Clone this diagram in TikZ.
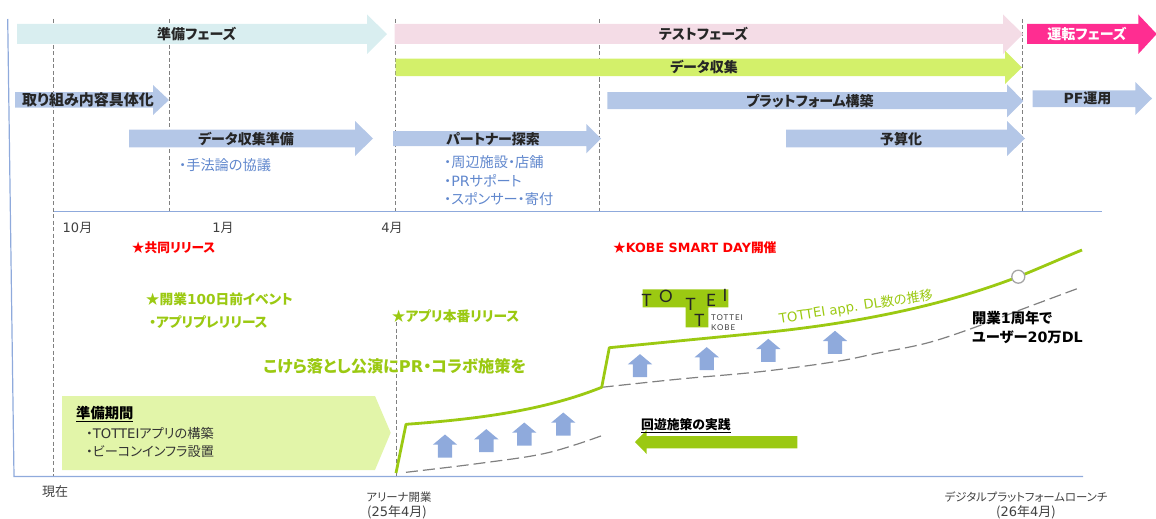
\documentclass[tikz,border=0pt]{standalone}
\usepackage{fontspec}
\usetikzlibrary{shapes.arrows}
\setmainfont{Noto Sans CJK JP}[RawFeature={+palt}]
\newfontfamily\ltnfont{DejaVu Sans}
\newfontfamily\logofont{Lato}
\newfontfamily\logosmall{Lato}[LetterSpace=12]
\newcommand{\ltn}[1]{{\ltnfont #1}}
\definecolor{axisblue}{HTML}{8FAADC}
\definecolor{barblue}{HTML}{B4C7E7}
\definecolor{notegreen}{HTML}{9BC912}
\definecolor{bargreen}{HTML}{D3F06A}
\definecolor{boxgreen}{HTML}{E2F5A9}
\definecolor{barpink}{HTML}{F4DCE6}
\definecolor{barteal}{HTML}{D9EEF0}
\definecolor{barmagenta}{HTML}{FF2D91}
\definecolor{textblue}{HTML}{4472C4}
\definecolor{textgray}{HTML}{404040}
\tikzset{
  barlabel/.style={inner sep=0pt,font=\fontsize{14}{14}\selectfont\bfseries,text=black!85},
  notelabel/.style={inner sep=0pt,anchor=west,font=\fontsize{14.2}{14.2}\selectfont,text=textblue!85},
  axislabel/.style={inner sep=0pt,font=\fontsize{13}{13}\selectfont,text=textgray},
  bottomlabel/.style={inner sep=0pt,font=\fontsize{11.4}{11.4}\selectfont,text=textgray},
  redlabel/.style={inner sep=0pt,anchor=west,font=\fontsize{12.7}{12.7}\selectfont\bfseries,text=red},
  greenlabel/.style={inner sep=0pt,anchor=west,font=\fontsize{13.7}{13.7}\selectfont\bfseries,text=notegreen},
  blacklabel/.style={inner sep=0pt,anchor=west,font=\fontsize{14.3}{14.3}\selectfont\bfseries,text=black},
  boxlabel/.style={inner sep=0pt,anchor=west,font=\fontsize{13.2}{13.2}\selectfont,text=black!80},
  logoletter/.style={inner sep=0pt,font=\logofont\fontsize{17}{17}\selectfont,text=black!85},
  logotext/.style={inner sep=0pt,anchor=west,font=\logosmall\fontsize{8}{8}\selectfont,text=black!75},
  gridline/.style={gray,line width=0.7pt,dash pattern=on 4pt off 2.5pt},
  axisline/.style={axisblue,line width=1.2pt},
  trendline/.style={notegreen,line width=2.8pt,line join=round},
  baseline/.style={gray,line width=1.2pt,dash pattern=on 12pt off 5pt},
  uparrow/.style={single arrow,shape border rotate=90,anchor=tail,fill=axisblue,draw=none,inner sep=7pt,
    minimum width=24pt,minimum height=23pt,single arrow head extend=5pt,single arrow tip angle=100},
}
\begin{document}
\begin{tikzpicture}[x=1pt,y=-1pt]
\useasboundingbox (0,0) rectangle (1156,519);
% axes and grid
\draw[axisline] (7.7,19) -- (14,476.5) -- (1083,476.5);
\draw[axisline] (53,211.3) -- (1102,211.3);
\draw[gridline] (53.3,19) -- (53.3,476);
\draw[gridline] (169.3,19) -- (169.3,211);
\draw[gridline] (395,19) -- (395,211);
\draw[gridline] (396,322) -- (396,476);
\draw[gridline] (599.5,19) -- (599.5,211);
\draw[gridline] (1022.5,19) -- (1022.5,211);
% phases
\fill[barteal] (17,24) -- (367,24) -- (367,14.5) -- (387,34) -- (367,54) -- (367,44) -- (17,44) -- cycle;
\node[barlabel] (prepPhase) at (196.7,34) {準備フェーズ};
\fill[barpink] (394.7,24) -- (1003,24) -- (1003,14.5) -- (1023,34) -- (1003,54) -- (1003,44) -- (394.7,44) -- cycle;
\node[barlabel] (testPhase) at (703.5,34) {テストフェーズ};
\fill[barmagenta] (1027,24) -- (1138.3,24) -- (1138.3,14.5) -- (1156.7,34) -- (1138.3,54) -- (1138.3,44) -- (1027,44) -- cycle;
\node[barlabel,text=white] (opsPhase) at (1087,34) {運転フェーズ};
% tasks
\fill[bargreen] (395.7,58.7) -- (1005,58.7) -- (1005,50.7) -- (1022,67.5) -- (1005,84) -- (1005,76) -- (395.7,76) -- cycle;
\node[barlabel] (dataCollect) at (704,67.5) {データ収集};
\fill[barblue] (15,92) -- (153,92) -- (153,85) -- (169,100) -- (153,115) -- (153,107.5) -- (15,107.5) -- cycle;
\node[barlabel,font=\fontsize{15}{15}\selectfont\bfseries] (scope) at (88,100) {取り組み内容具体化};
\fill[barblue] (129,129.7) -- (355,129.7) -- (355,121) -- (373,138.5) -- (355,156) -- (355,147.3) -- (129,147.3) -- cycle;
\node[barlabel] (dataPrep) at (246,139) {データ収集準備};
\fill[barblue] (393,131) -- (586.3,131) -- (586.3,124) -- (601,138.5) -- (586.3,153.3) -- (586.3,146) -- (393,146) -- cycle;
\node[barlabel] (partner) at (493,139) {パートナー探索};
\fill[barblue] (607.3,92) -- (1007,92) -- (1007,84.3) -- (1023.3,101) -- (1007,117.3) -- (1007,109) -- (607.3,109) -- cycle;
\node[barlabel] (platform) at (810,101) {プラットフォーム構築};
\fill[barblue] (786,129.7) -- (1007,129.7) -- (1007,121) -- (1025,138.5) -- (1007,156) -- (1007,147.3) -- (786,147.3) -- cycle;
\node[barlabel] (budget) at (901,139) {予算化};
\fill[barblue] (1032.7,90.3) -- (1135.3,90.3) -- (1135.3,82) -- (1152,98.5) -- (1135.3,115) -- (1135.3,107) -- (1032.7,107) -- cycle;
\node[barlabel] (pfOps) at (1087.5,98.5) {\ltn{PF}運用};
% notes under the tasks
\node[notelabel] (noteMethod) at (179,165) {・手法論の協議};
\node[notelabel] (noteShops) at (444,162) {・周辺施設・店舗};
\node[notelabel] (notePr) at (444,181) {・\ltn{PR}サポート};
\node[notelabel] (noteSponsor) at (444,199.5) {・スポンサー・寄付};
% months
\node[axislabel] (monthOct) at (77.5,228) {\ltn{10}月};
\node[axislabel] (monthJan) at (223,228) {\ltn{1}月};
\node[axislabel] (monthApr) at (392,228) {\ltn{4}月};
% events
\node[redlabel] (jointRelease) at (131.7,248) {★共同リリース};
\node[redlabel] (smartDay) at (613,248) {★\ltn{KOBE SMART DAY}開催};
\node[greenlabel] (hundredDays) at (145.7,299) {★開業\ltn{100}日前イベント};
\node[greenlabel] (preRelease) at (149,321.7) {・アプリプレリリース};
\node[greenlabel] (appRelease) at (391.7,316.7) {★アプリ本番リリース};
\node[greenlabel,font=\fontsize{16.2}{16.2}\selectfont\bfseries] (collab) at (263.3,366.7) {こけら落とし公演に\ltn{PR}・コラボ施策を};
% preparation box
\fill[boxgreen] (62,396) -- (375,396) -- (390.7,432.7) -- (375,470) -- (62,470) -- cycle;
\node[blacklabel] (prepTitle) at (76,414) {\underline{準備期間}};
\node[boxlabel] (prepApp) at (86,433) {・\ltn{TOTTEI}アプリの構築};
\node[boxlabel] (prepBeacon) at (86,452) {・ビーコンインフラ設置};
% download curves
\draw[baseline] plot[smooth,tension=0.6] coordinates {(406,472.3) (480,463.3) (546.7,453) (601.7,435.7)};
\draw[baseline] plot[smooth,tension=0.6] coordinates {(601.7,387.3) (680,379) (760,371.7) (835,361.7) (877,353.3) (927,343) (973,328) (1020,310) (1079,288)};
\draw[trendline] (396,473) -- (406,424.3) .. controls (480,419) and (545,410) .. (601.7,387.3) -- (609.3,347.7) -- (760,333)
  .. controls (860,323) and (945,305) .. (1018.3,276.7) .. controls (1040,268) and (1060,259) .. (1082,250);
\node[circle,draw=gray!70,line width=1.3pt,fill=white,minimum size=13pt,inner sep=0pt] (launchMark) at (1018.3,276.7) {};
% lift arrows
\node[uparrow] (lift1) at (445,457.7) {};
\node[uparrow] (lift2) at (486.3,452.3) {};
\node[uparrow] (lift3) at (524.3,445.7) {};
\node[uparrow] (lift4) at (563.3,435.7) {};
\node[uparrow] (lift5) at (640,377.3) {};
\node[uparrow] (lift6) at (706.7,370.3) {};
\node[uparrow] (lift7) at (768.3,362) {};
\node[uparrow] (lift8) at (835,354) {};
% loop measures
\fill[notegreen] (635,442) -- (646.7,430) -- (646.7,436) -- (797.3,436) -- (797.3,448.3) -- (646.7,448.3) -- (646.7,454) -- cycle;
\node[blacklabel,font=\fontsize{12.8}{12.8}\selectfont\bfseries] (loopTitle) at (641,425.7) {\underline{回遊施策の実践}};
% curve labels
\node[inner sep=0pt,rotate=9,font=\fontsize{13.2}{13.2}\selectfont,text=notegreen] (dlLabel) at (856,307) {\ltn{TOTTEI app. DL}数の推移};
\node[blacklabel] (goalA) at (972,317.7) {開業\ltn{1}周年で};
\node[blacklabel] (goalB) at (972,337.3) {ユーザー\ltn{20}万\ltn{DL}};
% logo
\fill[notegreen] (642.7,289.3) -- (728.3,289.3) -- (728.3,307.3) -- (708.3,307.3) -- (708.3,327.3) -- (685.7,327.3) -- (685.7,307.3) -- (642.7,307.3) -- cycle;
\node[logoletter] (logoT1) at (646.7,300.5) {T};
\node[logoletter] (logoO) at (666,296.5) {O};
\node[logoletter] (logoT2) at (690.7,304) {T};
\node[logoletter] (logoT3) at (699.3,320.7) {T};
\node[logoletter] (logoE) at (711,300.7) {E};
\node[logoletter] (logoI) at (725,295) {I};
\node[logotext] (logoName) at (711,317.7) {TOTTEI};
\node[logotext] (logoCity) at (711,327.3) {KOBE};
% bottom labels
\node[axislabel] (now) at (55,492) {現在};
\node[bottomlabel] (arena) at (399,496.7) {アリーナ開業};
\node[axislabel] (arenaDate) at (397,512.7) {(\ltn{25}年\ltn{4}月)};
\node[bottomlabel] (launch) at (1026,496.7) {デジタルプラットフォームローンチ};
\node[axislabel] (launchDate) at (1026,512.7) {(\ltn{26}年\ltn{4}月)};
\end{tikzpicture}
\end{document}
